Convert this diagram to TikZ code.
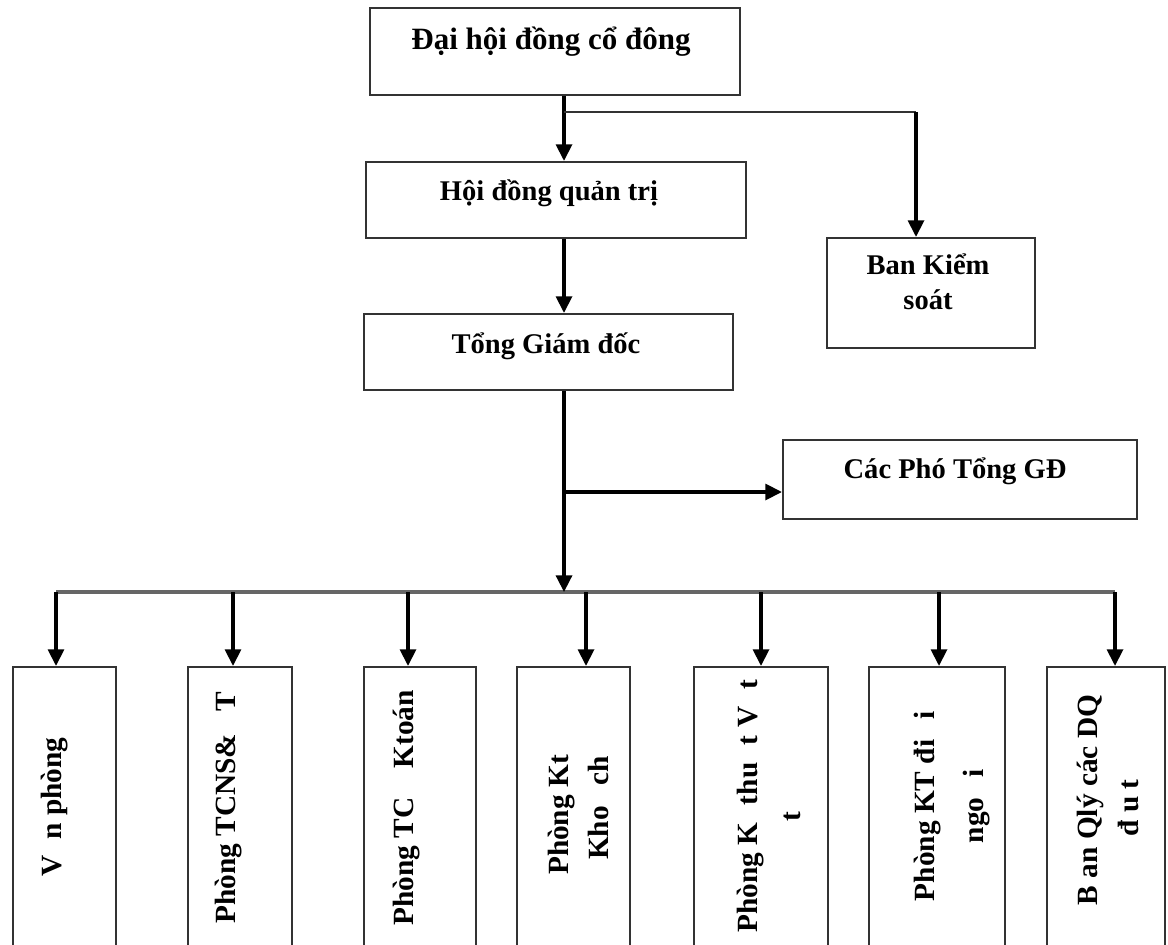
\documentclass[tikz,border=0pt]{standalone}
\usepackage{fontspec}
\setmainfont{Liberation Serif}
\usetikzlibrary{arrows.meta}
\begin{document}
\begin{tikzpicture}[x=0.75pt,y=-0.75pt,
  box/.style={draw=black!80, line width=1.6pt, inner sep=0pt, fill=none},
  conn/.style={line width=2.5pt, black},
  thinconn/.style={line width=1.9pt, black!80},
  arr/.style={-{Triangle[length=12.5pt,width=12pt]}},
  big/.style={font=\fontsize{23.25}{28}\selectfont\bfseries, inner sep=0pt},
  mid/.style={font=\fontsize{21.4}{25}\selectfont\bfseries, inner sep=0pt},
  rot/.style={font=\fontsize{22}{26}\selectfont\bfseries, inner sep=0pt, rotate=90, anchor=center}]
\clip (0,0) rectangle (1168,945);
\fill[white] (0,0) rectangle (1168,945);

% upper boxes
\node[box, minimum width=277.5pt, minimum height=65.25pt] (top) at (555,51.5) {};
\node[box, minimum width=285pt, minimum height=57pt] (hdqt) at (556,200) {};
\node[box, minimum width=276.75pt, minimum height=57pt] (tgd) at (548.5,352) {};
\node[box, minimum width=156pt, minimum height=82.5pt] (bks) at (931,293) {};
\node[box, minimum width=265.5pt, minimum height=59.25pt] (pho) at (960,479.5) {};

\node[big, anchor=base] (ttop) at (551,50) {Đại hội đồng cổ đông};
\node[mid, anchor=base] (thdqt) at (549,201) {Hội đồng quản trị};
\node[mid, anchor=base] (ttgd) at (546,353) {Tổng Giám đốc};
\node[mid, anchor=base] (tbks1) at (928,275) {Ban Kiểm};
\node[mid, anchor=base] (tbks2) at (928,310) {soát};
\node[mid, anchor=base] (tpho) at (955,478) {Các Phó Tổng GĐ};

% bottom boxes
\node[box, minimum width=77.25pt, minimum height=219.75pt] (b1) at (64.5,813.5) {};
\node[box, minimum width=78pt, minimum height=219.75pt] (b2) at (240,813.5) {};
\node[box, minimum width=84pt, minimum height=219.75pt] (b3) at (420,813.5) {};
\node[box, minimum width=84.75pt, minimum height=219.75pt] (b4) at (573.5,813.5) {};
\node[box, minimum width=100.5pt, minimum height=219.75pt] (b5) at (761,813.5) {};
\node[box, minimum width=102pt, minimum height=219.75pt] (b6) at (937,813.5) {};
\node[box, minimum width=88.5pt, minimum height=219.75pt] (b7) at (1106,813.5) {};

\node[rot] (t1) at (55,807) {V\hspace{0.55em}n phòng};
\node[rot] (t2) at (229,808) {Phòng TCNS\&\hspace{0.75em}T};
\node[rot] (t3) at (407,808) {Phòng TC\hspace{1em}Ktoán};
\node[rot] (t4a) at (562,815) {Phòng Kt};
\node[rot] (t4b) at (598,808) {Kho\hspace{0.7em}ch};
\node[rot] (t5a) at (751,806) {Phòng K\hspace{0.6em}thu\hspace{0.6em}t V\hspace{0.6em}t};
\node[rot] (t5b) at (792,817) {t};
\node[rot] (t6a) at (928,806) {Phòng KT đi\hspace{0.7em}i};
\node[rot] (t6b) at (977,806) {ngo\hspace{0.7em}i};
\node[rot] (t7a) at (1090,800) {B an Qlý các DQ};
\node[rot] (t7b) at (1128,808) {đ u t};

% junction coordinates
\coordinate (j1) at (564,112);
\coordinate (j1r) at (916,112);
\coordinate (j2) at (564,492);
\coordinate (bus) at (564,592);
\coordinate (busL) at (56,592);
\coordinate (busR) at (1115,592);
\coordinate (x2) at (233,592);
\coordinate (x3) at (408,592);
\coordinate (x4) at (586,592);
\coordinate (x5) at (761,592);
\coordinate (x6) at (939,592);
\coordinate (x7) at (1115,592);

% connectors
\draw[line width=2.6pt, black!60] (busL) -- (busR);
\draw[conn, arr] (top.south -| j1) -- (hdqt.north -| j1);
\draw[thinconn] (j1) -- (j1r);
\draw[conn, arr] (j1r) -- (bks.north -| j1r);
\draw[conn, arr] (hdqt.south -| j1) -- (tgd.north -| j1);
\draw[conn, arr] (tgd.south -| j1) -- (bus);
\draw[conn, arr] (j2) -- (pho.west |- j2);
\draw[conn, arr] (busL) -- (b1.north -| busL);
\draw[conn, arr] (x2) -- (b2.north -| x2);
\draw[conn, arr] (x3) -- (b3.north -| x3);
\draw[conn, arr] (x4) -- (b4.north -| x4);
\draw[conn, arr] (x5) -- (b5.north -| x5);
\draw[conn, arr] (x6) -- (b6.north -| x6);
\draw[conn, arr] (x7) -- (b7.north -| x7);
\end{tikzpicture}
\end{document}
